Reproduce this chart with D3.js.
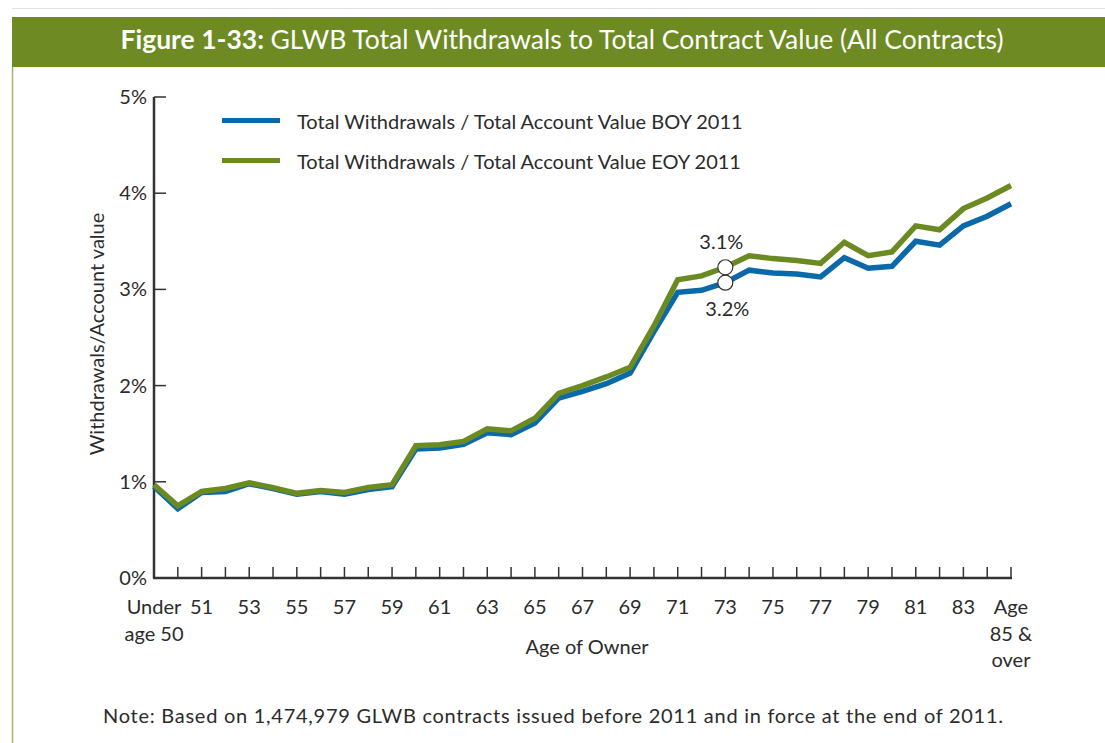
<!DOCTYPE html>
<html>
<head>
<meta charset="utf-8">
<script src="https://cdnjs.cloudflare.com/ajax/libs/d3/7.8.5/d3.min.js"></script>
<style>
  body { margin: 0; background: #fff; }
  svg text { font-family: Lato, "Open Sans", sans-serif; fill: #2b2b2b; }
</style>
</head>
<body>
<div id="chart"></div>
<script>
// ages on the x axis, "Under age 50" first and "Age 85 & over" last
const ages = ["Under age 50"];
for (let a = 50; a <= 84; a++) ages.push(String(a));
ages.push("Age 85 & over");

// withdrawals / account value, in percent
const boyValues = [0.95, 0.72, 0.89, 0.90, 0.98, 0.93, 0.87, 0.90, 0.87, 0.92,
  0.95, 1.34, 1.35, 1.39, 1.51, 1.49, 1.61, 1.87, 1.94, 2.02,
  2.13, 2.56, 2.97, 2.99, 3.07, 3.20, 3.17, 3.16, 3.13, 3.33,
  3.22, 3.24, 3.50, 3.46, 3.66, 3.76, 3.89];
const eoyValues = [0.97, 0.75, 0.90, 0.93, 0.99, 0.94, 0.88, 0.91, 0.89, 0.94,
  0.97, 1.375, 1.385, 1.42, 1.55, 1.53, 1.66, 1.92, 2.00, 2.09,
  2.19, 2.62, 3.10, 3.14, 3.23, 3.35, 3.32, 3.30, 3.27, 3.49,
  3.35, 3.39, 3.66, 3.62, 3.84, 3.95, 4.08];

const yTicks = [0, 1, 2, 3, 4, 5];
const xLabelAges = ["Under age 50", "51", "53", "55", "57", "59", "61", "63", "65", "67",
  "69", "71", "73", "75", "77", "79", "81", "83", "Age 85 & over"];

const seriesNames = ["Total Withdrawals / Total Account Value BOY 2011",
  "Total Withdrawals / Total Account Value EOY 2011"];
const seriesColors = ["#0a69a9", "#6b8a22"];

// callouts at age 73
const markAge = "73";
const markLabels = ["3.2%", "3.1%"];

const width = 1105, height = 743;
const svg = d3.select("#chart").append("svg")
  .attr("width", width).attr("height", height);

// header band
svg.append("line").attr("x1", 12).attr("x2", width).attr("y1", 8.5).attr("y2", 8.5)
  .attr("stroke", "#e2e2e2").attr("stroke-width", 1);
svg.append("rect").attr("x", 12).attr("y", 17).attr("width", width - 12).attr("height", 50)
  .attr("fill", "#6d8a23");
svg.append("line").attr("x1", 12.5).attr("x2", 12.5).attr("y1", 67).attr("y2", height)
  .attr("stroke", "#a3b46a").attr("stroke-width", 1.5);

const title = svg.append("text").attr("x", 562).attr("y", 49)
  .attr("text-anchor", "middle").style("font-size", "26.5px");
title.append("tspan").attr("font-weight", "bold").style("fill", "#fff").text("Figure 1-33: ");
title.append("tspan").style("fill", "#fff").text("GLWB Total Withdrawals to Total Contract Value (All Contracts)");

// scales
const x = d3.scalePoint().domain(ages).range([154, 1011]);
const y = d3.scaleLinear().domain([0, 5]).range([578, 97]);

// y axis
svg.append("line").attr("x1", 154).attr("x2", 154).attr("y1", y(5)).attr("y2", y(0))
  .attr("stroke", "#333").attr("stroke-width", 2.5);
svg.selectAll(".ytick").data(yTicks).enter().append("line")
  .attr("x1", 154).attr("x2", 166)
  .attr("y1", d => y(d)).attr("y2", d => y(d))
  .attr("stroke", "#333").attr("stroke-width", 1.5);
svg.selectAll(".ylab").data(yTicks).enter().append("text")
  .attr("x", 147).attr("y", d => y(d) + 7)
  .attr("text-anchor", "end").style("font-size", "20px")
  .text(d => d + "%");

// x axis
svg.append("line").attr("x1", 153).attr("x2", x(ages[ages.length - 1]) + 1)
  .attr("y1", y(0)).attr("y2", y(0))
  .attr("stroke", "#333").attr("stroke-width", 2.5);
svg.selectAll(".xtick").data(ages.slice(1)).enter().append("line")
  .attr("x1", d => x(d)).attr("x2", d => x(d))
  .attr("y1", y(0)).attr("y2", y(0) - 11)
  .attr("stroke", "#333").attr("stroke-width", 1.5);

const xl = svg.selectAll(".xlab").data(xLabelAges).enter().append("text")
  .attr("text-anchor", "middle").style("font-size", "20px");
xl.each(function (d) {
  const t = d3.select(this);
  let lines = [d];
  if (d === "Under age 50") lines = ["Under", "age 50"];
  if (d === "Age 85 & over") lines = ["Age", "85 &", "over"];
  lines.forEach((s, i) => {
    t.append("tspan").attr("x", x(d)).attr("y", 614 + i * 26.5).text(s);
  });
});

svg.append("text").attr("x", 587).attr("y", 654).attr("text-anchor", "middle")
  .style("font-size", "20px").text("Age of Owner");
svg.append("text").attr("transform", "translate(104,334) rotate(-90)")
  .attr("text-anchor", "middle").style("font-size", "20px")
  .text("Withdrawals/Account value");

// lines
const line = d3.line().x((d, i) => x(ages[i])).y(d => y(d));
[boyValues, eoyValues].forEach((vals, k) => {
  svg.append("path").datum(vals).attr("d", line)
    .attr("fill", "none").attr("stroke", seriesColors[k])
    .attr("stroke-width", 5.5).attr("stroke-linejoin", "miter");
});

// markers at 73
const mi = ages.indexOf(markAge);
[boyValues, eoyValues].forEach((vals, k) => {
  svg.append("circle").attr("cx", x(markAge)).attr("cy", y(vals[mi]))
    .attr("r", 7.5).attr("fill", "#fff").attr("stroke", "#333").attr("stroke-width", 1.2);
});
svg.append("text").attr("x", x(markAge) - 4).attr("y", y(eoyValues[mi]) - 18)
  .attr("text-anchor", "middle").style("font-size", "20px").text(markLabels[1]);
svg.append("text").attr("x", x(markAge) + 2).attr("y", y(boyValues[mi]) + 33)
  .attr("text-anchor", "middle").style("font-size", "20px").text(markLabels[0]);

// legend
seriesNames.forEach((name, k) => {
  const ly = 120.5 + k * 40;
  svg.append("line").attr("x1", 222).attr("x2", 280).attr("y1", ly).attr("y2", ly)
    .attr("stroke", seriesColors[k]).attr("stroke-width", 5);
  svg.append("text").attr("x", 297).attr("y", ly + 8).style("font-size", "20px").text(name);
});

// note
svg.append("text").attr("x", 553).attr("y", 723).attr("text-anchor", "middle")
  .style("font-size", "20px").attr("textLength", 900).attr("lengthAdjust", "spacing")
  .text("Note: Based on 1,474,979 GLWB contracts issued before 2011 and in force at the end of 2011.");
</script>
</body>
</html>
